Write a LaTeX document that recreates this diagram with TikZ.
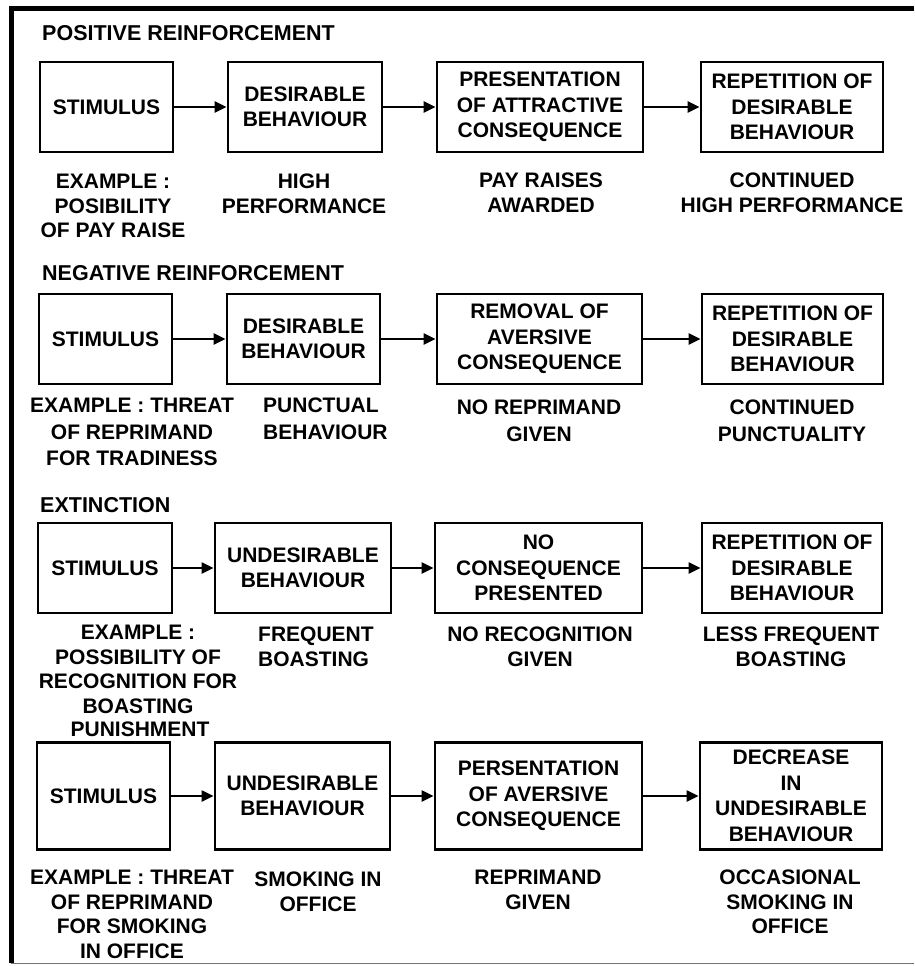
\documentclass[tikz,border=0pt]{standalone}
\usepackage{fontspec}
\usepackage{tikz}
\usetikzlibrary{arrows.meta}
\newfontfamily\hvfont{Liberation Sans}

\begin{document}
\begin{tikzpicture}[x=1pt, y=-1pt,
      box/.style={draw, line width=2.8pt, align=center, inner sep=0pt,
                  font=\hvfont\bfseries\fontsize{21}{25.5}\selectfont},
      lbl/.style={anchor=north, align=center, inner sep=0pt,
                  font=\hvfont\bfseries\fontsize{21}{24.5}\selectfont},
      lblwide/.style={lbl, font=\hvfont\bfseries\fontsize{21}{26.5}\selectfont},
      ttl/.style={anchor=base west, inner sep=0pt,
                  font=\hvfont\bfseries\fontsize{21.5}{25}\selectfont},
      arr/.style={-{Triangle[length=12pt, width=11pt]}, line width=2.2pt}
    ]
      \useasboundingbox (0,0) rectangle (914,966);
      % frame
      \draw[line width=5pt] (914,9) -- (11,9) -- (11,963);
      \draw[line width=1pt, black!55] (11,963) -- (914,963);

      % positive reinforcement
      \node[ttl] (t1) at (42,41) {POSITIVE REINFORCEMENT};
      \node[box, minimum width=133, minimum height=90] (a1) at (106.5,107) {STIMULUS};
      \node[box, minimum width=154, minimum height=90] (b1) at (305,107) {DESIRABLE\\BEHAVIOUR};
      \node[box, minimum width=206, minimum height=90] (c1) at (540,107) {PRESENTATION\\OF ATTRACTIVE\\CONSEQUENCE};
      \node[box, minimum width=182, minimum height=90] (d1) at (792,107) {REPETITION OF\\DESIRABLE\\BEHAVIOUR};
      \draw[arr] (a1) -- (b1);
      \draw[arr] (b1) -- (c1);
      \draw[arr] (c1) -- (d1);
      \node[lbl] (la1) at (113,174) {EXAMPLE :\\POSIBILITY\\OF PAY RAISE};
      \node[lbl] (lb1) at (304,174) {HIGH\\PERFORMANCE};
      \node[lbl] (lc1) at (541,173) {PAY RAISES\\AWARDED};
      \node[lbl] (ld1) at (792,173) {CONTINUED\\HIGH PERFORMANCE};

      % negative reinforcement
      \node[ttl] (t2) at (42,280) {NEGATIVE REINFORCEMENT};
      \node[box, minimum width=133, minimum height=90] (a2) at (105.5,339) {STIMULUS};
      \node[box, minimum width=153, minimum height=90] (b2) at (303.5,339) {DESIRABLE\\BEHAVIOUR};
      \node[box, minimum width=205, minimum height=90] (c2) at (539.5,339) {REMOVAL OF\\AVERSIVE\\CONSEQUENCE};
      \node[box, minimum width=181, minimum height=90] (d2) at (792.5,339) {REPETITION OF\\DESIRABLE\\BEHAVIOUR};
      \draw[arr] (a2) -- (b2);
      \draw[arr] (b2) -- (c2);
      \draw[arr] (c2) -- (d2);
      \node[lblwide] (la2) at (132,398) {EXAMPLE : THREAT\\OF REPRIMAND\\FOR TRADINESS};
      \node[lblwide, anchor=north west, align=left] (lb2) at (263,398) {PUNCTUAL\\BEHAVIOUR};
      \node[lblwide] (lc2) at (539,400) {NO REPRIMAND\\GIVEN};
      \node[lblwide] (ld2) at (792,400) {CONTINUED\\PUNCTUALITY};

      % extinction
      \node[ttl] (t3) at (40,512) {EXTINCTION};
      \node[box, minimum width=134, minimum height=90] (a3) at (105,568) {STIMULUS};
      \node[box, minimum width=176, minimum height=90] (b3) at (303,568) {UNDESIRABLE\\BEHAVIOUR};
      \node[box, minimum width=207, minimum height=90] (c3) at (538.5,568) {NO\\CONSEQUENCE\\PRESENTED};
      \node[box, minimum width=180, minimum height=90] (d3) at (792,568) {REPETITION OF\\DESIRABLE\\BEHAVIOUR};
      \draw[arr] (a3) -- (b3);
      \draw[arr] (b3) -- (c3);
      \draw[arr] (c3) -- (d3);
      \node[lbl] (la3) at (138,625) {EXAMPLE :\\POSSIBILITY OF\\RECOGNITION FOR\\BOASTING};
      \node[lbl, anchor=north west, align=left] (lb3) at (258,627) {FREQUENT\\BOASTING};
      \node[lbl] (lc3) at (540,627) {NO RECOGNITION\\GIVEN};
      \node[lbl] (ld3) at (791,627) {LESS FREQUENT\\BOASTING};

      % punishment
      \node[lbl] (t4) at (140,722) {PUNISHMENT};
      \node[box, minimum width=133, minimum height=107] (a4) at (103.5,796) {STIMULUS};
      \node[box, minimum width=175, minimum height=107] (b4) at (302.5,796) {UNDESIRABLE\\BEHAVIOUR};
      \node[box, minimum width=207, minimum height=107] (c4) at (538.5,796) {PERSENTATION\\OF AVERSIVE\\CONSEQUENCE};
      \node[box, minimum width=182, minimum height=107] (d4) at (791,796) {DECREASE\\IN\\UNDESIRABLE\\BEHAVIOUR};
      \draw[arr] (a4) -- (b4);
      \draw[arr] (b4) -- (c4);
      \draw[arr] (c4) -- (d4);
      \node[lbl] (la4) at (132,870) {EXAMPLE : THREAT\\OF REPRIMAND\\FOR SMOKING\\IN OFFICE};
      \node[lbl] (lb4) at (318,872) {SMOKING IN\\OFFICE};
      \node[lbl] (lc4) at (538,870) {REPRIMAND\\GIVEN};
      \node[lbl] (ld4) at (790,870) {OCCASIONAL\\SMOKING IN\\OFFICE};
    \end{tikzpicture}
\end{document}
